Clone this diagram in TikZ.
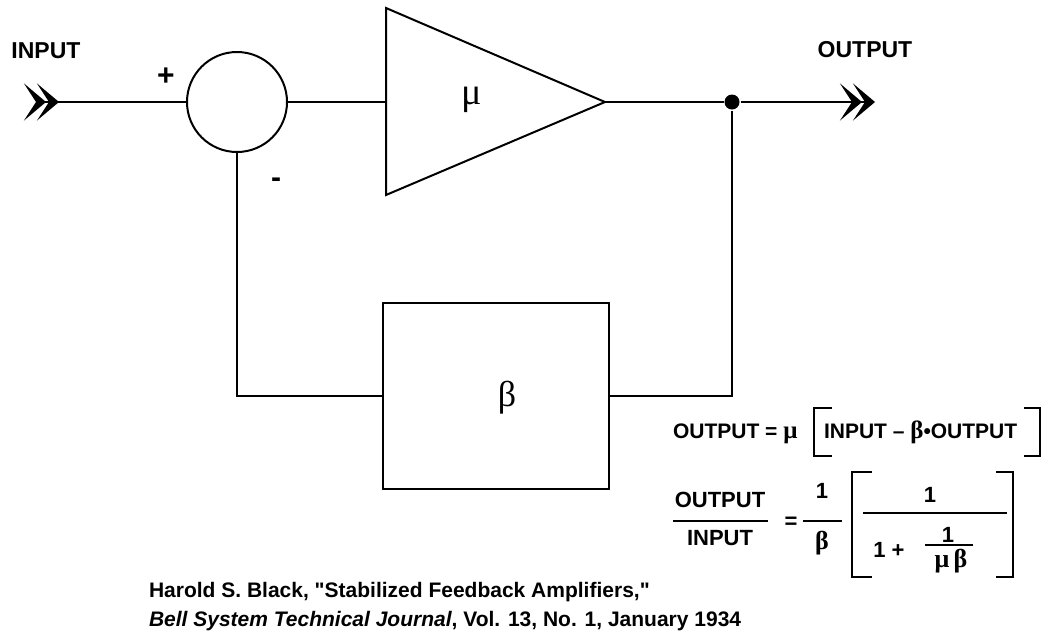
\documentclass[tikz,border=0pt]{standalone}
\usepackage{fontspec}
\setmainfont{Liberation Sans}
\newfontfamily\grk{Liberation Serif}
\usetikzlibrary{arrows.meta,positioning}
\tikzset{chev/.tip={Stealth[length=22pt,width=37pt,inset=12pt,sep=-9pt]}}

\begin{document}
\begin{tikzpicture}[x=1pt,y=-1pt,
			line width=2pt,
			lbl/.style={font=\bfseries\fontsize{23}{25}\selectfont},
			sign/.style={font=\bfseries\fontsize{30}{32}\selectfont},
			eqa/.style={font=\bfseries\fontsize{21}{23}\selectfont,inner sep=0pt,anchor=base west},
			eqb/.style={font=\bfseries\fontsize{22}{24}\selectfont,inner sep=0pt,anchor=base},
			gb/.style={font=\grk\bfseries\fontsize{26}{28}\selectfont},
			cite/.style={font=\bfseries\fontsize{21}{23}\selectfont,anchor=base west,inner sep=0pt},
			sumc/.style={circle,draw,minimum size=100pt,inner sep=0pt},
			tapdot/.style={circle,fill,minimum size=15pt,inner sep=0pt},
			blk/.style={draw,minimum width=226pt,minimum height=186pt},
			bar/.style={line width=2.6pt}]
\useasboundingbox (0,0) rectangle (1044,633);
% forward path
\coordinate (in) at (33,102);
\node[lbl] (inlbl) at (46,51) {INPUT};
\node[sumc] (sum) at (237,102) {};
\node[sign] (plus) at (166,77) {+};
\node[sign] (minus) at (276,183) {-};
\coordinate (ampin) at (386,102);
\coordinate (ampout) at (605,102);
\draw (386,8) -- (386,195) -- (ampout) -- cycle;
\node[font=\grk\fontsize{38}{40}\selectfont] (mu) at (472,100) {μ};
\node[tapdot] (tap) at (732,102) {};
\coordinate (out) at (866,102);
\node[lbl] (outlbl) at (865,50) {OUTPUT};
\draw[{chev[reversed]chev[reversed]}-] (in) -- (sum.west);
\draw (sum.east) -- (ampin);
\draw (ampout) -- (tap);
\draw[-{chev[]chev[]}] (tap) -- (out);
% feedback path
\node[blk] (fb) at (496,396) {};
\node[font=\grk\fontsize{36}{38}\selectfont] (beta) at (507,398) {β};
\draw (tap) |- (fb.east);
\draw (fb.west) -| (sum.south);
% first equation
\node[eqa] (eq1) at (672,438) {OUTPUT = {\grk\bfseries\fontsize{25}{27}\selectfont μ}};
\node[eqa] (eq1in) at (823,438) {INPUT – {\grk\bfseries\fontsize{25}{27}\selectfont β}•OUTPUT};
\draw[bar] (832,408) -| (814,456) -- (832,456);
\draw[bar] (1024,408) -| (1040,456) -- (1024,456);
% second equation
\node[eqb] (num) at (720,507) {OUTPUT};
\node[eqb] (den) at (720,545) {INPUT};
\draw[bar] (673,521) -- (768,521);
\node[eqb] (eqs) at (791,528) {=};
\node[eqb] (one) at (822,498) {1};
\node[eqb,gb] (b2) at (822,549) {β};
\draw[bar] (803,521) -- (842,521);
\draw[bar] (872,472) -| (852,577) -- (872,577);
\draw[bar] (996,472) -| (1013,577) -- (996,577);
\node[eqb] (onetop) at (930,502) {1};
\draw[bar] (863,513) -- (1007,513);
\node[eqb] (onep) at (889,557) {1 +};
\node[eqb] (onesm) at (948,542) {1};
\draw[bar] (925,545) -- (973,545);
\node[eqb,gb] (mubeta) at (951,567) {μ\,β};
% reference
\node[cite] (ref1) at (148,597) {Harold S. Black, \textquotedbl Stabilized Feedback Amplifiers,\textquotedbl};
\node[cite] (ref2) at (148,626) {\textit{Bell System Technical Journal}, Vol. 13, No. 1, January 1934};
\end{tikzpicture}
\end{document}
